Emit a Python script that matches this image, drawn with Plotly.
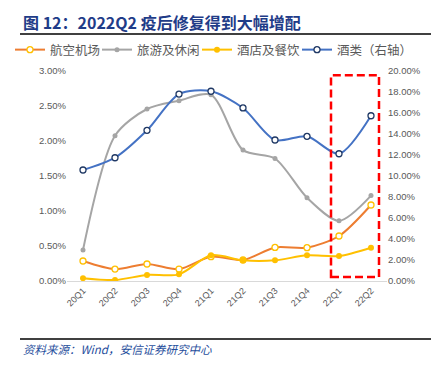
import plotly.graph_objects as go

quarters = ["20Q1", "20Q2", "20Q3", "20Q4", "21Q1", "21Q2", "21Q3", "21Q4", "22Q1", "22Q2"]
aviation = [0.286, 0.17, 0.243, 0.171, 0.347, 0.30, 0.48, 0.476, 0.643, 1.086]
tourism = [0.443, 2.076, 2.457, 2.576, 2.66, 1.87, 1.75, 1.19, 0.86, 1.22]
hotel = [0.04, 0.014, 0.086, 0.095, 0.367, 0.295, 0.295, 0.367, 0.357, 0.476]
liquor = [10.57, 11.74, 14.35, 17.8, 18.07, 16.48, 13.43, 13.78, 12.12, 15.74]

left_ticks = [0, 0.5, 1.0, 1.5, 2.0, 2.5, 3.0]
right_ticks = [0, 2, 4, 6, 8, 10, 12, 14, 16, 18, 20]

W, H = 439, 365
OFF = 8  # page body margin offset
PL, PT, PW, PH = 67, 71, 320, 210  # plot area in page pixels
L, T = PL - OFF, PT - OFF
R = W - L - PW
B = H - T - PH

def py(p):
    return (PT + PH - p) / PH

def px(p):
    return (p - PL) / PW

fig = go.Figure()
fig.add_trace(go.Scatter(
    x=quarters, y=aviation, name="航空机场", mode="lines+markers", legend="legend", legendwidth=42,
    line=dict(color="#ED7D31", width=2, shape="spline", smoothing=0.8),
    marker=dict(symbol="circle", size=6, color="white", line=dict(color="#FFC000", width=1.3))))
fig.add_trace(go.Scatter(
    x=quarters, y=tourism, name="旅游及休闲", mode="lines+markers", legend="legend",
    line=dict(color="#A5A5A5", width=2, shape="spline", smoothing=0.8),
    marker=dict(symbol="circle", size=5, color="#A5A5A5")))
fig.add_trace(go.Scatter(
    x=quarters, y=hotel, name="酒店及餐饮", mode="lines+markers", legend="legend2", legendwidth=55,
    line=dict(color="#FFC000", width=2, shape="spline", smoothing=0.8),
    marker=dict(symbol="circle", size=6, color="#FFC000")))
fig.add_trace(go.Scatter(
    x=quarters, y=liquor, name="酒类（右轴）", mode="lines+markers", yaxis="y2", legend="legend2",
    line=dict(color="#4472C4", width=2, shape="spline", smoothing=0.8),
    marker=dict(symbol="circle", size=6, color="white", line=dict(color="#1F3864", width=1.3))))

fig.add_shape(type="rect", xref="x", yref="y", x0=7.75, x1=9.25, y0=0.057, y1=2.94,
              line=dict(color="#FF0000", width=2.5, dash="8px,4px"), fillcolor="rgba(0,0,0,0)")

fig.add_shape(type="line", xref="paper", yref="paper", x0=px(20), x1=px(435), y0=py(34), y1=py(34),
              line=dict(color="black", width=1.5))
fig.add_shape(type="line", xref="paper", yref="paper", x0=px(20), x1=px(435), y0=py(339), y1=py(339),
              line=dict(color="black", width=1.5))

fig.add_annotation(xref="paper", yref="paper", x=px(21), y=py(22), xanchor="left", yanchor="middle",
                   text="<b>图 12：2022Q2 疫后修复得到大幅增配</b>", showarrow=False,
                   font=dict(family="Noto Sans CJK SC", size=16, color="#1F3C88"))
fig.add_annotation(xref="paper", yref="paper", x=px(21), y=py(349), xanchor="left", yanchor="middle",
                   text="<i>资料来源：Wind，安信证券研究中心</i>", showarrow=False,
                   font=dict(family="Noto Sans CJK SC", size=11.5, color="#1F4E9C"))

leg_common = dict(orientation="h", yanchor="middle", xanchor="left",
                  font=dict(size=12.5, color="#595959", family="Noto Sans CJK SC"),
                  itemwidth=30, bgcolor="rgba(0,0,0,0)")

fig.update_layout(
    width=W, height=H,
    margin=dict(l=L, r=R, t=T, b=B, autoexpand=False),
    paper_bgcolor="white", plot_bgcolor="white",
    font=dict(family="Noto Sans CJK SC", color="#595959"),
    showlegend=True,
    legend=dict(x=px(10), y=py(50), **leg_common),
    legend2=dict(x=px(197), y=py(50), **leg_common),
    xaxis=dict(type="category", categoryorder="array", categoryarray=quarters,
               tickangle=-45, tickfont=dict(size=9, color="#595959", family="Liberation Sans"),
               showgrid=False, showline=True, linecolor="#D9D9D9", linewidth=1,
               ticks="", zeroline=False, range=[-0.5, 9.5]),
    yaxis=dict(range=[0, 3.0], tickvals=left_ticks,
               ticktext=[f"{v:.2f}%" for v in left_ticks],
               tickfont=dict(size=9.5, color="#595959", family="Liberation Sans"),
               showgrid=False, zeroline=False, showline=False, ticks=""),
    yaxis2=dict(range=[0, 20], tickvals=right_ticks, overlaying="y", side="right",
                ticktext=[f"{v:.2f}%" for v in right_ticks],
                tickfont=dict(size=9.5, color="#595959", family="Liberation Sans"),
                showgrid=False, zeroline=False, showline=False, ticks=""),
)

fig.write_html("out.html")
